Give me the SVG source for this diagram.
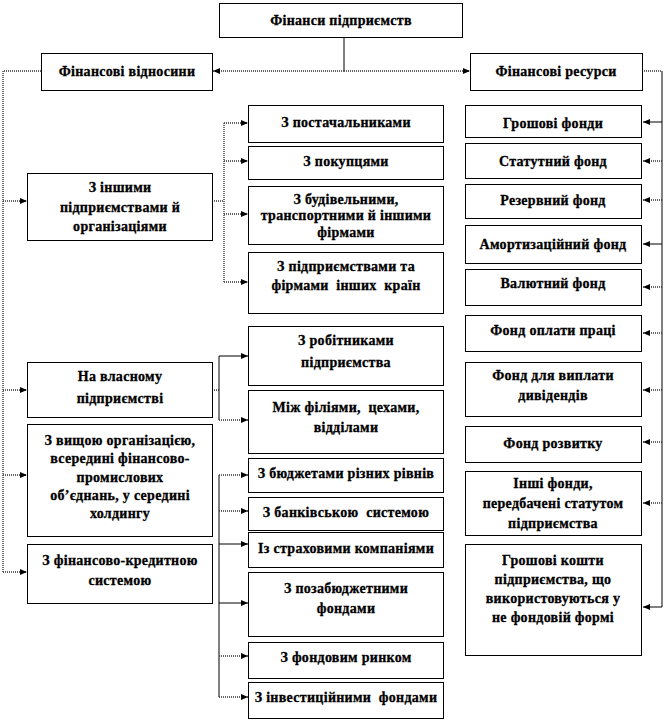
<svg xmlns="http://www.w3.org/2000/svg" width="664" height="720" viewBox="0 0 664 720">
<style>
.box{fill:#fff;stroke:#000;stroke-width:1}
.t{font-family:"Liberation Serif","Times New Roman",serif;font-weight:bold;font-size:14px;letter-spacing:0.3px;text-anchor:middle;fill:#000;stroke:#000;stroke-width:0.3;white-space:pre}
.s{fill:none;stroke:#000;stroke-width:1}
.d{fill:none;stroke:#333;stroke-width:1.4;stroke-dasharray:1 1}
</style>
<defs>
<marker id="ar" viewBox="0 0 7 6" refX="7" refY="3" markerWidth="7" markerHeight="6" markerUnits="userSpaceOnUse" orient="auto">
<path d="M0,0 L7,3 L0,6 z" fill="#000"/>
</marker>
</defs>
<rect width="664" height="720" fill="#fff"/>
<g id="connectors">
<path class="s" d="M344,37 V71"/>
<path class="d" d="M344,71 H213" marker-end="url(#ar)"/>
<path class="d" d="M344,71 H470" marker-end="url(#ar)"/>
<path class="d" d="M41,71 H3 V572"/>
<path class="d" d="M3,201 H27" marker-end="url(#ar)"/>
<path class="d" d="M3,390 H27" marker-end="url(#ar)"/>
<path class="d" d="M3,475 H27" marker-end="url(#ar)"/>
<path class="d" d="M3,572 H27" marker-end="url(#ar)"/>
<path class="d" d="M642,71 H662"/>
<path class="s" d="M662,71 V607"/>
<path class="s" d="M662,122 H643" marker-end="url(#ar)"/>
<path class="d" d="M662,161 H643" marker-end="url(#ar)"/>
<path class="d" d="M662,200 H643" marker-end="url(#ar)"/>
<path class="s" d="M662,244 H643" marker-end="url(#ar)"/>
<path class="d" d="M662,287 H643" marker-end="url(#ar)"/>
<path class="d" d="M662,333 H643" marker-end="url(#ar)"/>
<path class="d" d="M662,390 H643" marker-end="url(#ar)"/>
<path class="d" d="M662,442 H643" marker-end="url(#ar)"/>
<path class="d" d="M662,503 H643" marker-end="url(#ar)"/>
<path class="s" d="M662,607 H643" marker-end="url(#ar)"/>
<path class="d" d="M212,201 H224 M224,123 V282"/>
<path class="d" d="M224,123 H248" marker-end="url(#ar)"/>
<path class="d" d="M224,161 H248" marker-end="url(#ar)"/>
<path class="d" d="M224,214 H248" marker-end="url(#ar)"/>
<path class="d" d="M224,282 H248" marker-end="url(#ar)"/>
<path class="d" d="M212,390 H219"/>
<path class="s" d="M219,356 V420"/>
<path class="s" d="M219,356 H248" marker-end="url(#ar)"/>
<path class="d" d="M219,420 H248" marker-end="url(#ar)"/>
<path class="s" d="M219,475 V697"/>
<path class="d" d="M219,475 H248" marker-end="url(#ar)"/>
<path class="d" d="M219,511 H248" marker-end="url(#ar)"/>
<path class="s" d="M219,544 H248" marker-end="url(#ar)"/>
<path class="s" d="M219,603 H248" marker-end="url(#ar)"/>
<path class="d" d="M219,656 H248" marker-end="url(#ar)"/>
<path class="d" d="M219,697 H248" marker-end="url(#ar)"/>
</g>
<g id="n-root"><rect class="box" x="219.5" y="3.5" width="243" height="34"/><text class="t" x="341" y="25">Фінанси підприємств</text></g>
<g id="n-vidnosyny"><rect class="box" x="41.5" y="53.5" width="171" height="37"/><text class="t" x="127" y="76">Фінансові відносини</text></g>
<g id="n-resursy"><rect class="box" x="470.5" y="53.5" width="172" height="37"/><text class="t" x="556" y="76">Фінансові ресурси</text></g>

<g id="n-inshymy"><rect class="box" x="27.5" y="173.5" width="185" height="67"/><text class="t" x="120" y="192">З іншими</text><text class="t" x="120" y="212">підприємствами й</text><text class="t" x="120" y="231">організаціями</text></g>
<g id="n-vlasnomu"><rect class="box" x="27.5" y="362.5" width="185" height="55"/><text class="t" x="120" y="381">На власному</text><text class="t" x="120" y="403">підприємстві</text></g>
<g id="n-vyshchoiu"><rect class="box" x="27.5" y="424.5" width="185" height="112"/><text class="t" x="120" y="445">З вищою організацією,</text><text class="t" x="120" y="463">всередині фінансово-</text><text class="t" x="120" y="482">промислових</text><text class="t" x="120" y="500">об’єднань, у середині</text><text class="t" x="120" y="518">холдингу</text></g>
<g id="n-finkred"><rect class="box" x="27.5" y="544.5" width="185" height="59"/><text class="t" x="120" y="565">З фінансово-кредитною</text><text class="t" x="120" y="585">системою</text></g>

<g id="n-postach"><rect class="box" x="248.5" y="105.5" width="195" height="37"/><text class="t" x="346" y="127">З постачальниками</text></g>
<g id="n-pokuptsi"><rect class="box" x="248.5" y="146.5" width="195" height="33"/><text class="t" x="346" y="166">З покупцями</text></g>
<g id="n-budiv"><rect class="box" x="248.5" y="186.5" width="195" height="58"/><text class="t" x="346" y="204">З будівельними,</text><text class="t" x="346" y="220">транспортними й іншими</text><text class="t" x="346" y="237">фірмами</text></g>
<g id="n-krain"><rect class="box" x="248.5" y="252.5" width="195" height="61"/><text class="t" x="346" y="271">З підприємствами та</text><text class="t" x="346" y="290">фірмами  інших  країн</text></g>
<g id="n-robitn"><rect class="box" x="248.5" y="326.5" width="195" height="59"/><text class="t" x="346" y="345">З робітниками</text><text class="t" x="346" y="367">підприємства</text></g>
<g id="n-filii"><rect class="box" x="248.5" y="390.5" width="195" height="63"/><text class="t" x="346" y="412">Між філіями,  цехами,</text><text class="t" x="346" y="432">відділами</text></g>
<g id="n-biudzh"><rect class="box" x="248.5" y="458.5" width="195" height="34"/><text class="t" x="346" y="478">З бюджетами різних рівнів</text></g>
<g id="n-bank"><rect class="box" x="248.5" y="497.5" width="195" height="33"/><text class="t" x="346" y="517">З банківською  системою</text></g>
<g id="n-strakh"><rect class="box" x="248.5" y="532.5" width="195" height="35"/><text class="t" x="346" y="553">Із страховими компаніями</text></g>
<g id="n-pozabiudzh"><rect class="box" x="248.5" y="572.5" width="195" height="64"/><text class="t" x="346" y="593">З позабюджетними</text><text class="t" x="346" y="613">фондами</text></g>
<g id="n-fondrynok"><rect class="box" x="248.5" y="642.5" width="195" height="36"/><text class="t" x="346" y="662">З фондовим ринком</text></g>
<g id="n-invest"><rect class="box" x="248.5" y="682.5" width="195" height="36"/><text class="t" x="346" y="702">З інвестиційними  фондами</text></g>

<g id="n-hroshfondy"><rect class="box" x="465.5" y="105.5" width="176" height="32"/><text class="t" x="553" y="128">Грошові фонди</text></g>
<g id="n-statut"><rect class="box" x="465.5" y="143.5" width="176" height="35"/><text class="t" x="553" y="166">Статутний фонд</text></g>
<g id="n-rezerv"><rect class="box" x="465.5" y="184.5" width="176" height="34"/><text class="t" x="553" y="205">Резервний фонд</text></g>
<g id="n-amort"><rect class="box" x="465.5" y="225.5" width="176" height="38"/><text class="t" x="553" y="249">Амортизаційний фонд</text></g>
<g id="n-valiut"><rect class="box" x="465.5" y="269.5" width="176" height="36"/><text class="t" x="553" y="288">Валютний фонд</text></g>
<g id="n-oplata"><rect class="box" x="465.5" y="315.5" width="176" height="36"/><text class="t" x="553" y="335">Фонд оплати праці</text></g>
<g id="n-dyvid"><rect class="box" x="465.5" y="362.5" width="176" height="54"/><text class="t" x="553" y="380">Фонд для виплати</text><text class="t" x="553" y="400">дивідендів</text></g>
<g id="n-rozvytok"><rect class="box" x="465.5" y="426.5" width="176" height="36"/><text class="t" x="553" y="448">Фонд розвитку</text></g>
<g id="n-inshifondy"><rect class="box" x="465.5" y="471.5" width="176" height="64"/><text class="t" x="553" y="488">Інші фонди,</text><text class="t" x="553" y="508">передбачені статутом</text><text class="t" x="553" y="528">підприємства</text></g>
<g id="n-koshty"><rect class="box" x="465.5" y="544.5" width="176" height="111"/><text class="t" x="553" y="565">Грошові кошти</text><text class="t" x="553" y="584">підприємства, що</text><text class="t" x="553" y="603">використовуються у</text><text class="t" x="553" y="622">не фондовій формі</text></g>
</svg>
